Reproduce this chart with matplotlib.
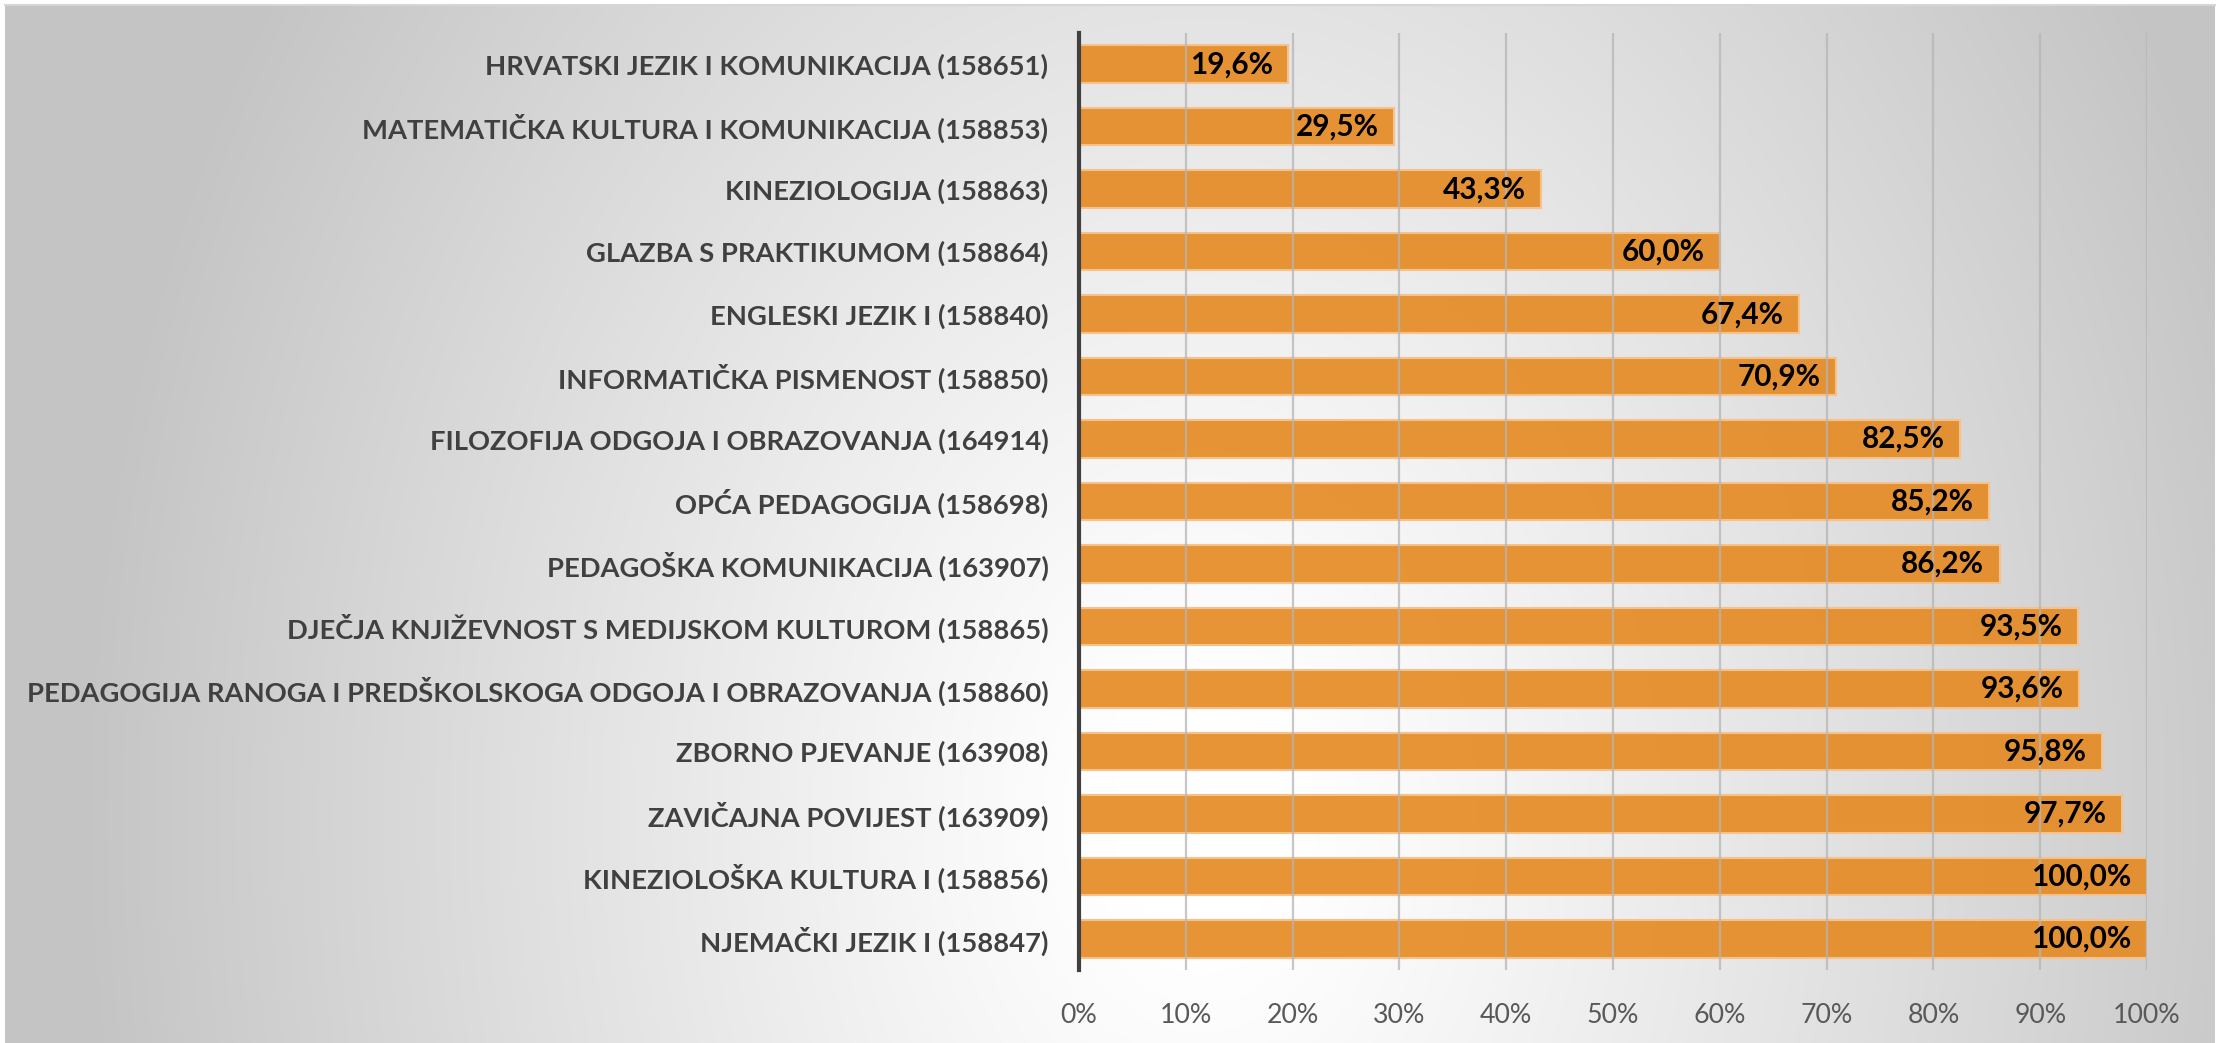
import numpy as np
import matplotlib
matplotlib.use("Agg")
import matplotlib.pyplot as plt
from matplotlib.ticker import FixedLocator

# ---------------- data ----------------
categories = [
    "HRVATSKI JEZIK I KOMUNIKACIJA (158651)",
    "MATEMATIČKA KULTURA I KOMUNIKACIJA (158853)",
    "KINEZIOLOGIJA (158863)",
    "GLAZBA S PRAKTIKUMOM (158864)",
    "ENGLESKI JEZIK I (158840)",
    "INFORMATIČKA PISMENOST (158850)",
    "FILOZOFIJA ODGOJA I OBRAZOVANJA (164914)",
    "OPĆA PEDAGOGIJA (158698)",
    "PEDAGOŠKA KOMUNIKACIJA (163907)",
    "DJEČJA KNJIŽEVNOST S MEDIJSKOM KULTUROM (158865)",
    "PEDAGOGIJA RANOGA I PREDŠKOLSKOGA ODGOJA I OBRAZOVANJA (158860)",
    "ZBORNO PJEVANJE (163908)",
    "ZAVIČAJNA POVIJEST (163909)",
    "KINEZIOLOŠKA KULTURA I (158856)",
    "NJEMAČKI JEZIK I (158847)",
]
values = [19.6, 29.5, 43.3, 60.0, 67.4, 70.9, 82.5, 85.2, 86.2,
          93.5, 93.6, 95.8, 97.7, 100.0, 100.0]
x_ticks = [0, 10, 20, 30, 40, 50, 60, 70, 80, 90, 100]
x_tick_labels = [f"{t}%" for t in x_ticks]

FONT = ["Lato", "DejaVu Sans"]
plt.rcParams["font.family"] = FONT

W, H, DPI = 2226, 1043, 100
fig = plt.figure(figsize=(W / DPI, H / DPI), dpi=DPI)
fig.patch.set_facecolor("white")

# ---------------- background gradient ----------------
bg = fig.add_axes([0, 0, 1, 1], zorder=-10)
bg.set_xlim(0, W)
bg.set_ylim(H, 0)
bg.axis("off")
xx, yy = np.meshgrid(np.arange(5, 2215, 2.0), np.arange(4, H, 2.0))
cx, cy, rx, ry = 1200.0, 820.0, 1120.0, 1500.0
d = np.sqrt(((xx - cx) / rx) ** 2 + ((yy - cy) / ry) ** 2)
g = 1.0 - 0.23 * np.clip((d - 0.08) / 0.92, 0, 1) ** 1.1
img = np.dstack([g, g, g])
bg.imshow(img, extent=(5, 2215, H, 4), interpolation="bilinear", aspect="auto")
bg.plot([5, 2215], [4.5, 4.5], color="#d6d6d6", lw=1.5)

# ---------------- main axes ----------------
left, right = 1079 / W, 2147 / W
top, bottom = 33 / H, 970 / H
ax = fig.add_axes([left, 1 - bottom, right - left, bottom - top])
ax.patch.set_alpha(0)

y = np.arange(len(categories))
fr = [v / 100 for v in values]
bars = ax.barh(y, fr, height=0.6, color=(229/255, 137/255, 33/255, 0.9),
               edgecolor="#f5c28c", linewidth=1.5, zorder=2)

ax.set_xlim(0, 1.0)
ax.set_ylim(len(categories) - 0.5, -0.5)

ax.xaxis.set_major_locator(FixedLocator([t / 100 for t in x_ticks]))
ax.set_xticklabels(x_tick_labels)
ax.set_yticks(y)
ax.set_yticklabels(categories)

ax.grid(axis="x", color="#b5b5b5", linewidth=1.6, alpha=0.75, zorder=3)
ax.set_axisbelow(False)
for s in ["top", "right", "bottom"]:
    ax.spines[s].set_visible(False)
ax.spines["left"].set_color("#404040")
ax.spines["left"].set_linewidth(3)
ax.spines["left"].set_zorder(4)

ax.tick_params(axis="y", length=0, pad=22)
ax.tick_params(axis="x", length=0, pad=24)

for lab in ax.get_yticklabels():
    lab.set_fontweight("bold")
    lab.set_color("#404040")
    lab.set_fontsize(20)
for lab in ax.get_xticklabels():
    lab.set_color("#595959")
    lab.set_fontsize(20)

vtexts = []
for yi, v in zip(y, values):
    t = ax.annotate(f"{v:.1f}%".replace(".", ","), xy=(v / 100, yi),
                    xytext=(-11, 0), textcoords="offset points",
                    ha="right", va="center", fontsize=20, fontweight="bold",
                    color="black", zorder=5)
    vtexts.append(t)

# ---------------- fit font sizes to reference widths ----------------
fig.canvas.draw()
r = fig.canvas.get_renderer()
ylabs = ax.get_yticklabels()
wmax = max(l.get_window_extent(r).width for l in ylabs)
fs_y = 20 * 1022 / wmax
for l in ylabs:
    l.set_fontsize(fs_y)
xl = ax.get_xticklabels()[-1]
fs_x = 20 * 68 / xl.get_window_extent(r).width
for l in ax.get_xticklabels():
    l.set_fontsize(fs_x)
fs_v = 20 * 101 / vtexts[-1].get_window_extent(r).width
for t in vtexts:
    t.set_fontsize(fs_v)

fig.savefig("out.png", dpi=DPI)
